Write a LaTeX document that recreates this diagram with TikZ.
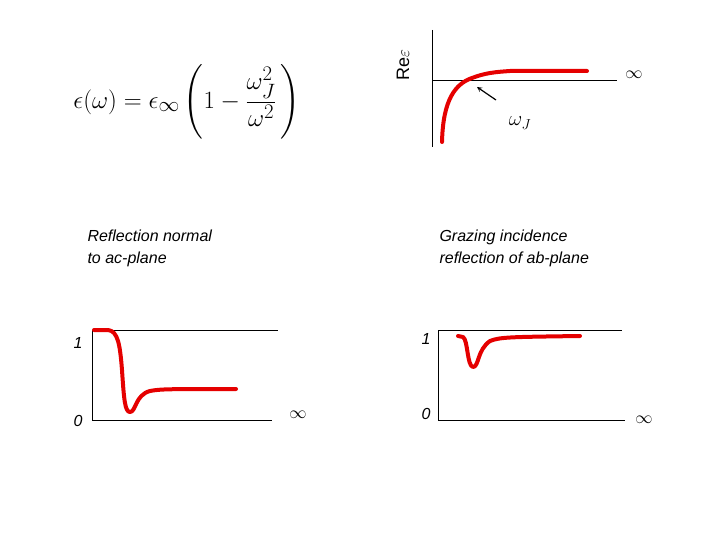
\documentclass[tikz,border=0pt]{standalone}
\usepackage{fontspec}
\setsansfont{Liberation Sans}
\usepackage{amsmath}
\begin{document}
\begin{tikzpicture}[x=1pt,y=-1pt,
 ax/.style={black,line width=0.8pt},
 rc/.style={red!90!black,line width=4pt,line cap=round,line join=round},
 lab/.style={font=\sffamily\itshape\fontsize{16}{22}\selectfont,align=left,anchor=north west},
 num/.style={font=\sffamily\itshape\fontsize{16}{18}\selectfont},
 inf/.style={font=\fontsize{16}{18}\selectfont}]
\useasboundingbox (0,0) rectangle (720,540);
\node (eq) at (187,102) {\fontsize{30}{34}\selectfont $\epsilon(\omega)=\epsilon_\infty\left(1-\dfrac{\omega_J^2}{\omega^2}\,\right)$};
% top right plot
\coordinate (a1) at (432,30); \coordinate (a2) at (432,147);
\draw[ax] (a1)--(a2);
\coordinate (h1) at (432,80); \coordinate (h2) at (617,80);
\draw[ax] (h1)--(h2);
\draw[rc] (442,142) .. controls (443,100) and (455,84) .. (472,78) .. controls (485,73) and (495,72) .. (510,71) -- (587,71);
\node[inf] (inf1) at (634,75) {$\infty$};
\node (wj) at (520,123) {\fontsize{20}{22}\selectfont$\omega_J$};
\coordinate (ar1) at (496,100); \coordinate (ar2) at (477,87);
\draw[-stealth,line width=1.2pt] (ar1)--(ar2);
\node[rotate=90,font=\sffamily\fontsize{18}{20}\selectfont] (re) at (403,65) {Re$\varepsilon$};
% labels
\node[lab] (t1) at (84,226) {Reflection normal\\to ac-plane};
\node[lab] (t2) at (436,226) {Grazing incidence\\reflection of ab-plane};
% bottom left
\draw[ax] (92,330)--(92,420);
\draw[ax] (92,330)--(278,330);
\draw[ax] (92,420)--(272,420);
\draw[rc] (94,330) -- (108,330) .. controls (118,331) and (120,345) .. (122,370) .. controls (124,400) and (125,412) .. (130,412) .. controls (136,412) and (135,395) .. (150,391) .. controls (160,389) and (170,389) .. (236,389);
\node[num] (l1) at (78,343) {1};
\node[num] (l0) at (78,421) {0};
\node[inf] (inf2) at (298,415) {$\infty$};
% bottom right
\draw[ax] (438,330)--(438,420);
\draw[ax] (438,330)--(622,330);
\draw[ax] (438,420)--(625,420);
\draw[rc] (458,336) -- (463,337) .. controls (468,340) and (467,366) .. (473,367) .. controls (479,367) and (477,350) .. (490,341) .. controls (500,337) and (510,337) .. (580,336);
\node[num] (r1) at (426,339) {1};
\node[num] (r0) at (426,414) {0};
\node[inf] (inf3) at (644,420) {$\infty$};
\end{tikzpicture}
\end{document}
